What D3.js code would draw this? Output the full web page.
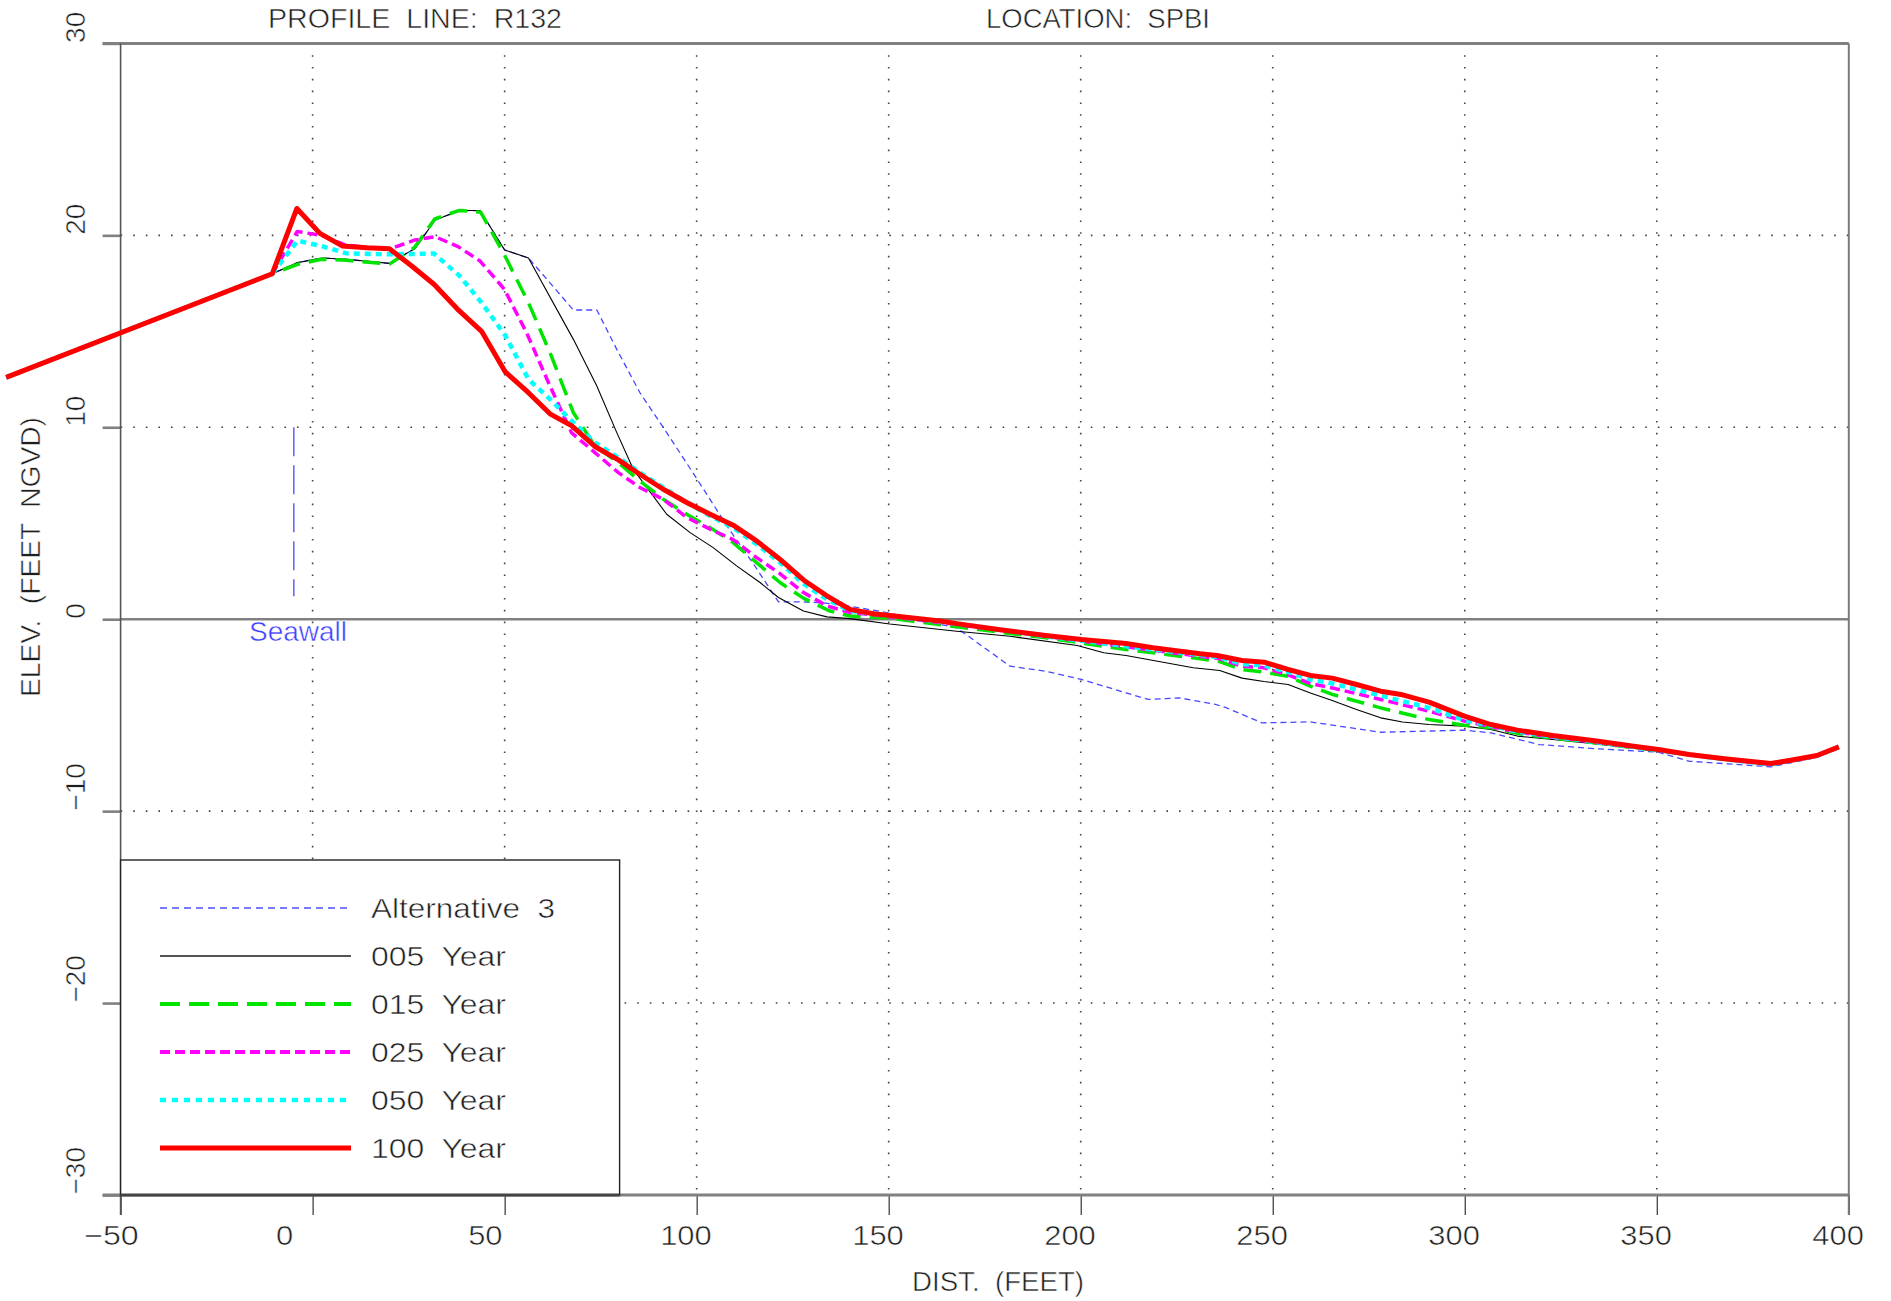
<!DOCTYPE html>
<html>
<head>
<meta charset="utf-8">
<script src="https://cdn.jsdelivr.net/npm/d3@7"></script>
<style>
  html, body { margin: 0; padding: 0; background: #fff; }
  svg text { font-family: "Liberation Sans", Arial, sans-serif; white-space: pre; }
</style>
</head>
<body>
<svg id="chart" width="1891" height="1301"></svg>
<script>
// ---------------- DATA ----------------
const xTicks = [-50, 0, 50, 100, 150, 200, 250, 300, 350, 400];
const yTicks = [-30, -20, -10, 0, 10, 20, 30];
const xGridVals = [0, 50, 100, 150, 200, 250, 300, 350];
const yGridVals = [-20, -10, 10, 20];

const titleLeft = "PROFILE  LINE:  R132";
const titleRight = "LOCATION:  SPBI";
const xTitle = "DIST.  (FEET)";
const yTitle = "ELEV.  (FEET  NGVD)";
const seriesNames = ["Alternative  3", "005  Year", "015  Year", "025  Year", "050  Year", "100  Year"];

// common landward profile (under the red line)
const landward = [[-79.8, 12.6], [-10.5, 18.0]];

const alt3 = [[-3.9, 18.58], [2.4, 18.82], [8.8, 18.75], [20.0, 18.54], [26.7, 19.32], [31.9, 20.8],
  [38.3, 21.29], [43.6, 21.29], [50.0, 19.24], [56.2, 18.82], [67.9, 16.11], [74.0, 16.11], [79.2, 14.06],
  [85.2, 11.81], [92.2, 9.72], [100.2, 7.27], [108.5, 4.67], [114.9, 2.85], [121.3, 0.9], [127.8, 0.9],
  [132.9, 0.85], [139.8, 0.68], [149.1, 0.36], [167.7, -0.45], [181.6, -2.45], [190.9, -2.71], [200.2, -3.14],
  [211.8, -3.84], [217.6, -4.18], [225.8, -4.10], [235.1, -4.44], [238.0, -4.62], [247.2, -5.40], [259.8, -5.35],
  [278.1, -5.89], [299.9, -5.78], [306.8, -5.92], [319.4, -6.53], [334.3, -6.75], [350.4, -6.93], [358.4, -7.40],
  [379.7, -7.69], [391.7, -7.2], [397.4, -6.70]];

const year005 = [[-3.9, 18.58], [2.4, 18.82], [8.8, 18.75], [20.0, 18.54], [26.7, 19.32], [31.9, 20.8],
  [38.3, 21.29], [43.6, 21.29], [50.0, 19.24], [56.2, 18.82], [67.9, 14.58], [74.0, 12.15], [79.2, 9.72],
  [83.5, 7.81], [92.2, 5.47], [98.3, 4.51], [104.3, 3.73], [110.4, 2.78], [116.5, 1.91], [121.3, 1.13],
  [127.8, 0.43], [133.9, 0.12], [139.9, 0.03], [150.3, -0.25], [167.7, -0.63], [181.6, -0.89], [199.1, -1.37],
  [206.0, -1.75], [211.8, -1.89], [229.3, -2.53], [236.2, -2.67], [242.0, -3.07], [247.7, -3.25], [254.0, -3.40],
  [259.8, -3.84], [265.5, -4.24], [271.8, -4.70], [278.1, -5.14], [283.8, -5.36], [290.7, -5.49], [299.9, -5.57],
  [306.8, -5.75], [313.7, -6.09], [322.9, -6.27], [334.3, -6.5], [350.4, -6.88], [367.6, -7.3], [379.7, -7.57],
  [391.7, -7.15], [397.4, -6.70]];

const year015 = [[-3.9, 18.49], [2.3, 18.75], [8.8, 18.7], [20.0, 18.5], [26.5, 19.36], [31.8, 20.85],
  [38.2, 21.3], [43.8, 21.2], [50.1, 18.92], [56.2, 16.49], [61.8, 13.89], [67.9, 10.76], [73.5, 9.03],
  [79.6, 8.16], [85.2, 7.2], [91.3, 6.25], [97.4, 5.47], [103.5, 4.77], [109.5, 3.99], [115.6, 2.95],
  [121.7, 1.91], [127.8, 1.1], [134.5, 0.44], [139.9, 0.17], [150.3, 0.05], [167.7, -0.4], [190.9, -0.97],
  [211.8, -1.58], [229.3, -2.01], [236.0, -2.2], [242.0, -2.62], [247.7, -2.76], [254.0, -2.97], [259.8, -3.49],
  [265.5, -3.92], [278.1, -4.62], [290.7, -5.23], [299.9, -5.52], [306.8, -5.65], [313.7, -5.95], [322.9, -6.2],
  [334.3, -6.45], [350.4, -6.85], [367.6, -7.3], [379.7, -7.55], [391.7, -7.13], [397.4, -6.68]];

const year025 = [[-4.0, 20.2], [2.3, 20.0], [8.5, 19.5], [14.5, 19.35], [20.2, 19.3], [26.7, 19.76],
  [31.9, 19.93], [38.0, 19.4], [43.6, 18.66], [49.9, 17.2], [55.7, 14.93], [61.8, 12.15], [67.4, 9.72],
  [73.5, 8.68], [79.6, 7.64], [85.2, 6.86], [91.3, 6.25], [97.4, 5.3], [103.5, 4.69], [109.5, 4.15],
  [115.6, 3.21], [121.5, 2.4], [127.8, 1.39], [133.9, 0.69], [139.9, 0.35], [150.3, 0.14], [167.7, -0.28],
  [190.9, -0.89], [211.8, -1.44], [229.3, -1.89], [236.0, -2.05], [242.0, -2.45], [247.7, -2.53], [254.0, -2.9],
  [259.8, -3.35], [265.5, -3.58], [278.1, -4.18], [290.7, -4.79], [299.9, -5.31], [306.8, -5.6], [313.7, -5.88],
  [322.9, -6.15], [334.3, -6.42], [350.4, -6.83], [367.6, -7.3], [379.7, -7.57], [391.7, -7.13], [397.4, -6.68]];

const year050 = [[-3.9, 19.72], [2.4, 19.44], [8.8, 19.06], [20.0, 19.01], [31.6, 19.05], [38.2, 17.9],
  [44.0, 16.49], [50.1, 14.8], [56.2, 12.5], [61.8, 11.46], [67.9, 10.24], [73.5, 9.2], [79.6, 8.42],
  [85.2, 7.64], [91.3, 6.86], [97.4, 6.08], [103.5, 5.38], [109.5, 4.77], [115.6, 3.91], [121.7, 2.95],
  [127.8, 1.85], [133.9, 1.04], [139.9, 0.43], [150.3, 0.19], [167.7, -0.23], [190.9, -0.89], [211.8, -1.41],
  [229.3, -1.81], [236.0, -1.98], [242.0, -2.33], [247.7, -2.41], [254.0, -2.75], [259.8, -3.14], [265.5, -3.35],
  [278.1, -3.98], [290.7, -4.62], [299.9, -5.26], [306.8, -5.55], [313.7, -5.85], [322.9, -6.12], [334.3, -6.4],
  [350.4, -6.82], [367.6, -7.3], [379.7, -7.56], [391.7, -7.12], [397.4, -6.67]];

const year100 = [[-4.1, 21.4], [1.9, 20.1], [7.7, 19.45], [14.1, 19.35], [20.0, 19.3], [25.8, 18.4],
  [31.6, 17.45], [38.0, 16.1], [44.0, 15.0], [50.1, 12.9], [56.2, 11.8], [61.8, 10.7], [67.5, 10.07],
  [73.5, 9.0], [79.6, 8.3], [85.2, 7.55], [91.3, 6.77], [97.4, 6.08], [103.5, 5.47], [109.5, 4.9],
  [115.6, 4.08], [121.5, 3.15], [127.9, 2.03], [133.9, 1.22], [139.9, 0.51], [146.0, 0.28], [152.1, 0.15],
  [163.4, -0.09], [167.7, -0.23], [179.0, -0.55], [190.9, -0.85], [200.2, -1.06], [211.8, -1.27], [218.8, -1.49],
  [231.1, -1.8], [235.5, -1.89], [242.0, -2.15], [247.8, -2.24], [254.0, -2.62], [259.8, -2.93], [265.5, -3.07],
  [271.8, -3.40], [278.1, -3.75], [283.8, -3.94], [290.7, -4.32], [299.9, -5.05], [306.8, -5.49], [313.7, -5.78],
  [322.9, -6.06], [334.3, -6.35], [343.5, -6.61], [350.4, -6.79], [358.4, -7.05], [367.6, -7.27], [379.7, -7.52],
  [386.0, -7.31], [391.7, -7.10], [397.4, -6.65]];

const seawallLine = [[-4.9, 10.0], [-4.9, 1.2]];
const seawallLabel = { text: "Seawall", d: -3.8, e: -1.15 };

// ---------------- STYLES ----------------
const seriesStyle = [
  { color: "#4848ff", width: 1.3, dash: "6,4", legendColor: "#7a7aff", legendWidth: 1.8, legendDash: "7,5" },
  { color: "#000000", width: 1.1, dash: null, legendColor: "#555555", legendWidth: 1.8, legendDash: null },
  { color: "#00e400", width: 3.5, dash: "18,9", legendColor: "#00e400", legendWidth: 4, legendDash: "20,9" },
  { color: "#ff00ff", width: 3.5, dash: "10,5", legendColor: "#ff00ff", legendWidth: 4, legendDash: "10,5" },
  { color: "#00ffff", width: 4.5, dash: "6,5", legendColor: "#00ffff", legendWidth: 4.5, legendDash: "6,6" },
  { color: "#ff0000", width: 5, dash: null, legendColor: "#ff0000", legendWidth: 5, legendDash: null }
];
const seriesData = [alt3, year005, year015, year025, year050, year100].map(s => landward.concat(s));

// ---------------- DRAW ----------------
const svg = d3.select("#chart");
svg.append("rect").attr("width", 1891).attr("height", 1301).attr("fill", "#fff");

const L = 120.6, R = 1848.8, T = 43.4, B = 1195;
const x = d3.scaleLinear().domain([-50, 400]).range([L, R]);
const y = d3.scaleLinear().domain([-30, 30]).range([B, T]);

const textFill = "#1e1e1e";
function thinText(sel) {
  return sel.attr("fill", textFill).attr("stroke", "#fff").attr("stroke-width", 0.55);
}

// grid
const grid = svg.append("g");
grid.selectAll("line.vg").data(xGridVals).join("line")
  .attr("x1", d => x(d)).attr("x2", d => x(d)).attr("y1", y(30)).attr("y2", y(-30))
  .attr("stroke", "#444").attr("stroke-width", 1.6).attr("stroke-dasharray", "1.6,10.2");
grid.selectAll("line.hg").data(yGridVals).join("line")
  .attr("x1", x(-50)).attr("x2", x(400)).attr("y1", d => y(d)).attr("y2", d => y(d))
  .attr("stroke", "#444").attr("stroke-width", 1.6).attr("stroke-dasharray", "1.6,11");

// zero line
svg.append("line").attr("x1", x(-50)).attr("x2", x(400)).attr("y1", y(0)).attr("y2", y(0))
  .attr("stroke", "#808080").attr("stroke-width", 2.6);

// axes (ticks + labels)
const fmt = d3.format("d");
const xAxis = d3.axisBottom(x).tickValues(xTicks).tickSize(20).tickFormat(fmt);
const gx = svg.append("g").attr("transform", `translate(0,${B})`).call(xAxis);
gx.select(".domain").remove();
gx.selectAll(".tick line").attr("stroke", "#333").attr("stroke-width", 1.2);
gx.selectAll(".tick text").attr("y", 50).attr("dy", 0).attr("x", -37)
  .attr("text-anchor", "start").attr("font-size", 28)
  .attr("textLength", d => fmt(d).length * 17.2 + (d < 0 ? 3 : 0)).attr("lengthAdjust", "spacingAndGlyphs")
  .call(thinText);

const yAxis = d3.axisLeft(y).tickValues(yTicks).tickSize(18).tickFormat(fmt);
const gy = svg.append("g").attr("transform", `translate(${L},0)`).call(yAxis);
gy.select(".domain").remove();
gy.selectAll(".tick line").attr("stroke", "#808080").attr("stroke-width", 2.6);
gy.selectAll(".tick text")
  .attr("transform", "rotate(-90)")
  .attr("x", 1).attr("y", -36).attr("dy", 0)
  .attr("text-anchor", "start").attr("font-size", 28).call(thinText);

// frame
svg.append("line").attr("x1", L - 18).attr("x2", R).attr("y1", T).attr("y2", T)
  .attr("stroke", "#808080").attr("stroke-width", 3);
svg.append("line").attr("x1", L - 18).attr("x2", R).attr("y1", B).attr("y2", B)
  .attr("stroke", "#808080").attr("stroke-width", 3);
svg.append("line").attr("x1", R).attr("x2", R).attr("y1", T).attr("y2", B + 20)
  .attr("stroke", "#7a7a7a").attr("stroke-width", 2);
svg.append("line").attr("x1", L).attr("x2", L).attr("y1", T).attr("y2", B + 20)
  .attr("stroke", "#555").attr("stroke-width", 1.6);

// seawall
svg.append("path").datum(seawallLine)
  .attr("d", d3.line().x(d => x(d[0])).y(d => y(d[1])))
  .attr("fill", "none").attr("stroke", "#6a6aff").attr("stroke-width", 1.6).attr("stroke-dasharray", "29,9");
svg.append("text").attr("x", x(seawallLabel.d)).attr("y", y(seawallLabel.e))
  .attr("text-anchor", "middle").attr("font-size", 28).text(seawallLabel.text)
  .attr("fill", "#3c3cff").attr("stroke", "#fff").attr("stroke-width", 0.5);

// series
const line = d3.line().x(d => x(d[0])).y(d => y(d[1]));
svg.append("g").selectAll("path").data(seriesData).join("path")
  .attr("d", line)
  .attr("fill", "none")
  .attr("stroke", (d, i) => seriesStyle[i].color)
  .attr("stroke-width", (d, i) => seriesStyle[i].width)
  .attr("stroke-dasharray", (d, i) => seriesStyle[i].dash)
  .attr("stroke-linejoin", "round");

// legend
const lg = svg.append("g");
lg.append("rect").attr("x", L).attr("y", 860).attr("width", 619.6 - L).attr("height", B - 860)
  .attr("fill", "#fff").attr("stroke", "#222").attr("stroke-width", 1.4);
const rowY = i => 908 + i * 48;
seriesNames.forEach((name, i) => {
  const st = seriesStyle[i];
  lg.append("line").attr("x1", 160).attr("x2", 351).attr("y1", rowY(i)).attr("y2", rowY(i))
    .attr("stroke", st.legendColor).attr("stroke-width", st.legendWidth)
    .attr("stroke-dasharray", st.legendDash);
  lg.append("text").attr("x", 371).attr("y", rowY(i) + 10).attr("font-size", 28)
    .attr("textLength", i === 0 ? 184 : 135).attr("lengthAdjust", "spacingAndGlyphs")
    .text(name).call(thinText);
});
// redraw bottom axis segment over legend edge
svg.append("line").attr("x1", L).attr("x2", 619.6).attr("y1", B).attr("y2", B)
  .attr("stroke", "#444").attr("stroke-width", 3);

// titles
svg.append("text").attr("x", 268).attr("y", 28).attr("font-size", 28)
  .attr("textLength", 294).attr("lengthAdjust", "spacingAndGlyphs").text(titleLeft).call(thinText);
svg.append("text").attr("x", 986).attr("y", 28).attr("font-size", 28)
  .attr("textLength", 224).attr("lengthAdjust", "spacingAndGlyphs").text(titleRight).call(thinText);
svg.append("text").attr("x", 912).attr("y", 1291).attr("font-size", 28)
  .attr("textLength", 172).attr("lengthAdjust", "spacingAndGlyphs").text(xTitle).call(thinText);
svg.append("text").attr("transform", "translate(40,697) rotate(-90)").attr("x", 0).attr("y", 0)
  .attr("font-size", 28).attr("textLength", 280).attr("lengthAdjust", "spacingAndGlyphs")
  .text(yTitle).call(thinText);
</script>
</body>
</html>
